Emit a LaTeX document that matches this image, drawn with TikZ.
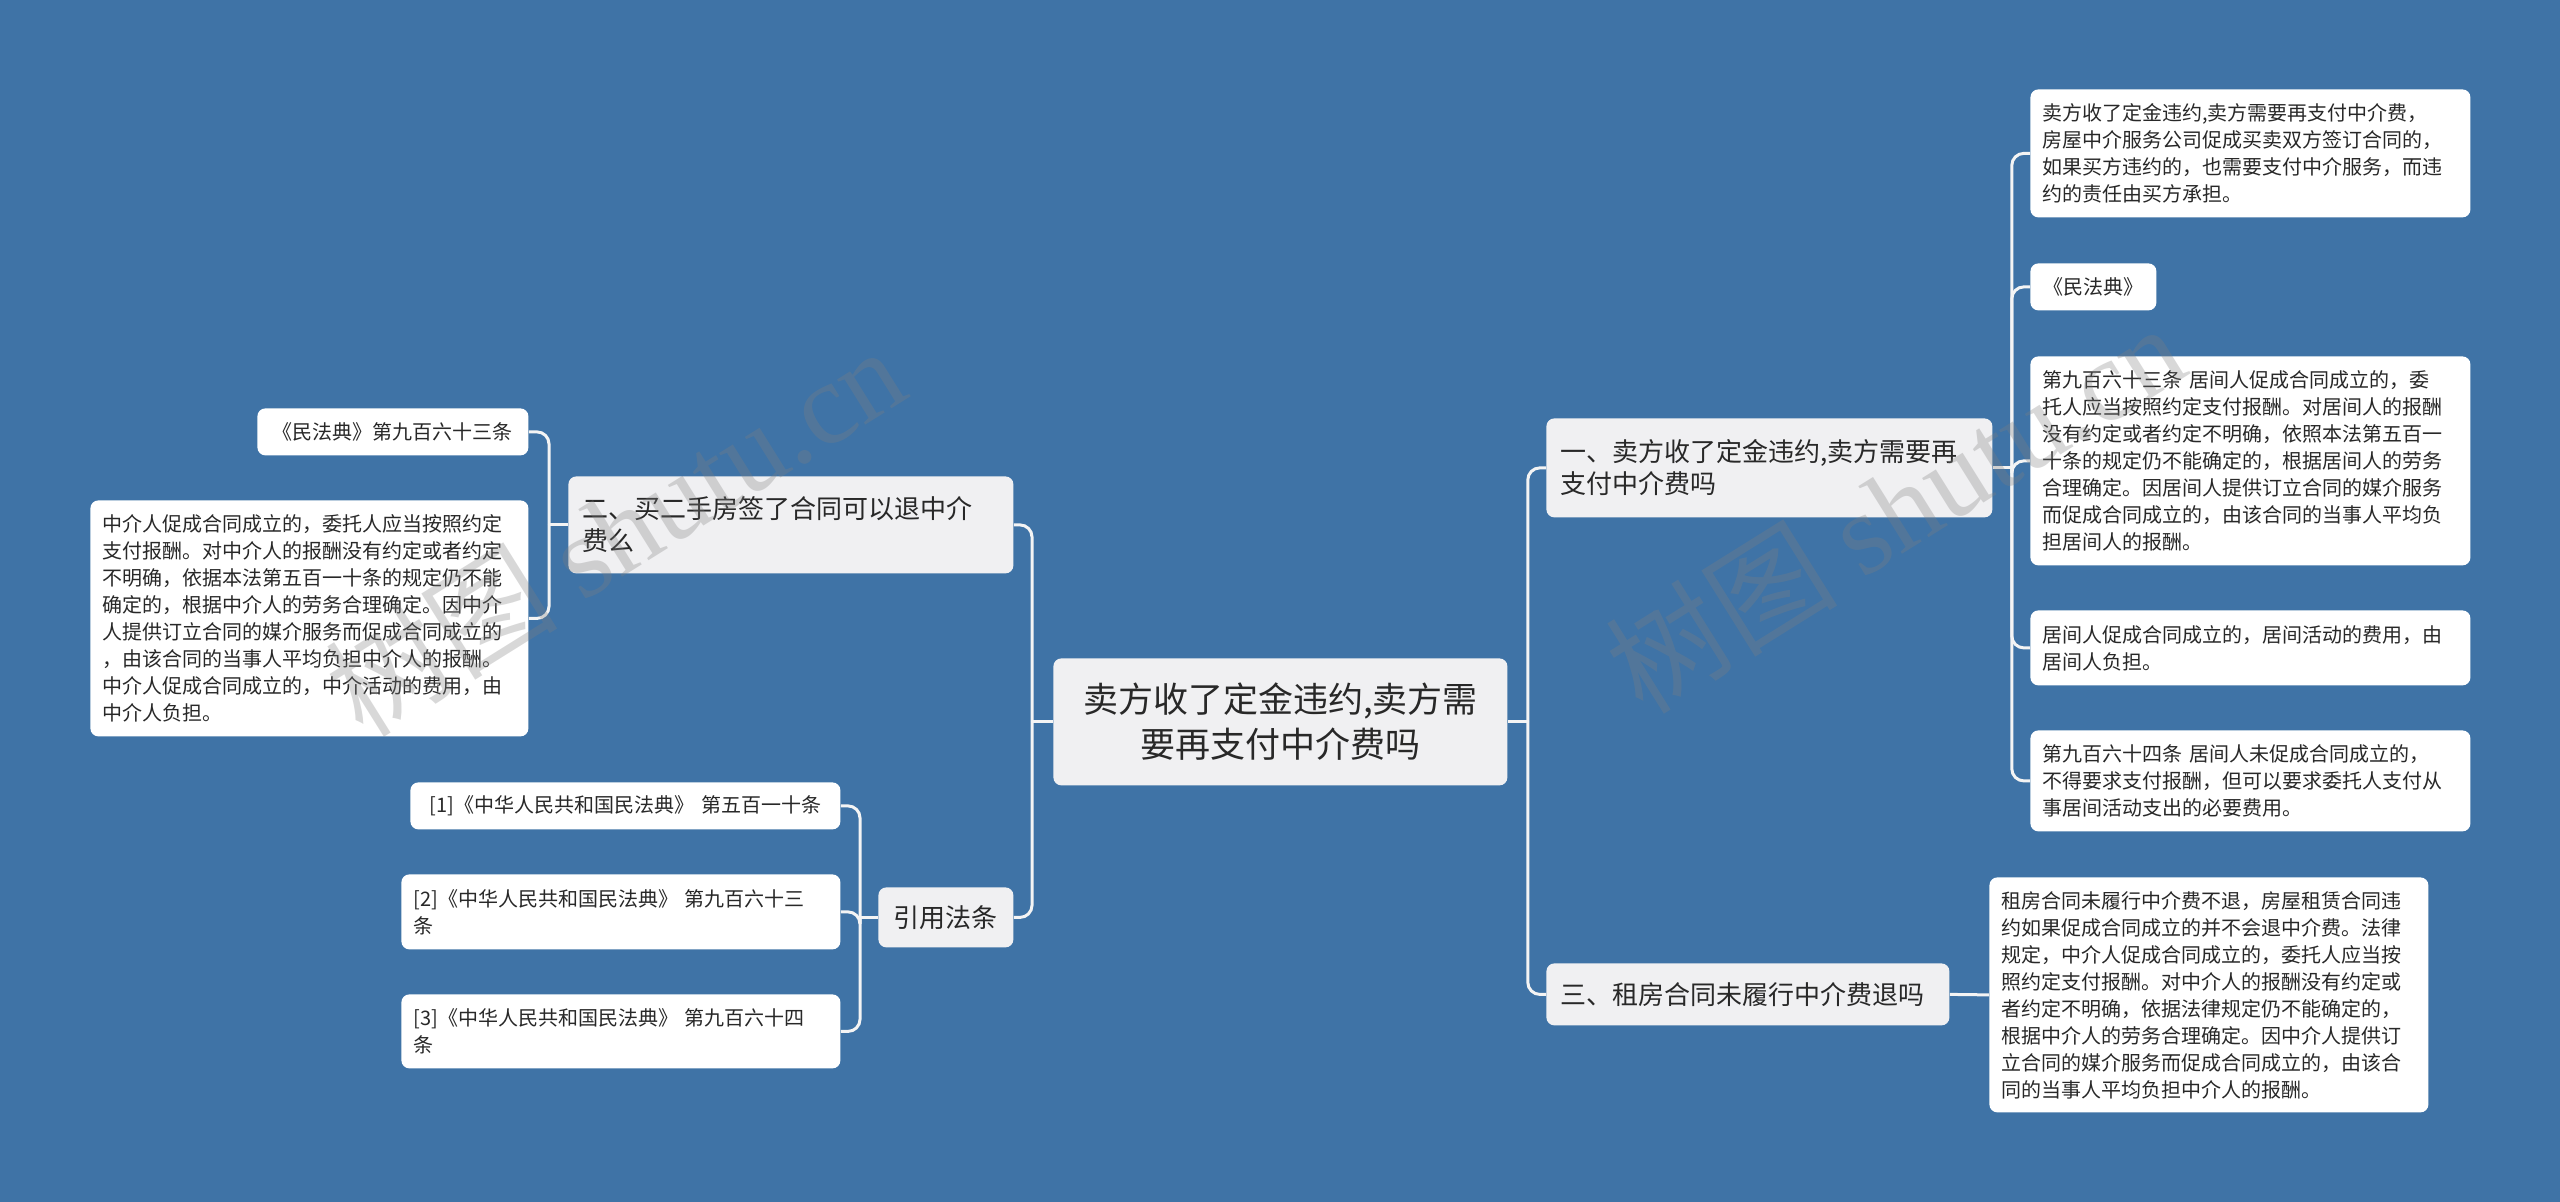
\documentclass[tikz,border=0pt]{standalone}
\usepackage{fontspec}
\setmainfont{Noto Sans CJK SC}
\newfontfamily\wmlatin{Liberation Serif}
\usetikzlibrary{positioning}

\definecolor{bgblue}{RGB}{63,115,166}
\definecolor{topfill}{RGB}{240,240,242}
\definecolor{inkgray}{RGB}{40,40,40}
\definecolor{linkwhite}{RGB}{244,244,244}

\tikzset{
  mapbox/.style={rectangle, rounded corners=4pt, anchor=north west,
    text=inkgray, inner ysep=3pt},
  rootbox/.style={mapbox, fill=topfill, inner xsep=8pt, align=center,
    font=\fontsize{17.5pt}{22.5pt}\selectfont},
  branchbox/.style={mapbox, fill=topfill, inner xsep=7pt, align=left,
    font=\fontsize{13pt}{16pt}\selectfont},
  leafbox/.style={mapbox, fill=white, inner xsep=6pt, align=left,
    font=\fontsize{10pt}{13.5pt}\selectfont},
  link/.style={draw=linkwhite, line width=1.5pt, rounded corners=6pt},
  wmark/.style={text=gray, text opacity=0.3, rotate=32,
    font=\fontsize{58pt}{58pt}\selectfont}
}

\begin{document}
\begin{tikzpicture}[x=0.5pt,y=-0.5pt]
  % background
  \fill[bgblue] (0,0) rectangle (2560,1202);
  \useasboundingbox (0,0) rectangle (2560,1202);

  % centre
  \node[rootbox, text width=211pt, minimum height=63.5pt] (root) at (1053,658)
    {卖方收了定金违约,卖方需\\要再支付中介费吗};

  % main branches
  \node[branchbox, text width=209pt, minimum height=49.5pt] (b1) at (1546,418)
    {一、卖方收了定金违约,卖方需要再\\支付中介费吗};
  \node[branchbox, text width=187.5pt, minimum height=31pt] (b3) at (1546,963)
    {三、租房合同未履行中介费退吗};
  \node[branchbox, text width=208.5pt, minimum height=48.5pt] (b2) at (568,476)
    {二、买二手房签了合同可以退中介\\费么};
  \node[branchbox, align=center, text width=53.5pt, minimum height=30pt] (cite) at (878,887)
    {引用法条};

  % leaves of b1
  \node[leafbox, text width=208pt, minimum height=64pt] (r1) at (2030,89)
    {卖方收了定金违约,卖方需要再支付中介费，\\
     房屋中介服务公司促成买卖双方签订合同的，\\
     如果买方违约的，也需要支付中介服务，而违\\
     约的责任由买方承担。};
  \node[leafbox, align=center, text width=51pt, minimum height=23.5pt] (r2) at (2030,263)
    {《民法典》};
  \node[leafbox, text width=208pt, minimum height=104.5pt] (r3) at (2030,356)
    {第九百六十三条 居间人促成合同成立的，委\\
     托人应当按照约定支付报酬。对居间人的报酬\\
     没有约定或者约定不明确，依照本法第五百一\\
     十条的规定仍不能确定的，根据居间人的劳务\\
     合理确定。因居间人提供订立合同的媒介服务\\
     而促成合同成立的，由该合同的当事人平均负\\
     担居间人的报酬。};
  \node[leafbox, text width=208pt, minimum height=37.5pt] (r4) at (2030,610)
    {居间人促成合同成立的，居间活动的费用，由\\
     居间人负担。};
  \node[leafbox, text width=208pt, minimum height=50.5pt] (r5) at (2030,730)
    {第九百六十四条 居间人未促成合同成立的，\\
     不得要求支付报酬，但可以要求委托人支付从\\
     事居间活动支出的必要费用。};

  % leaf of b3
  \node[leafbox, text width=207.5pt, minimum height=117.5pt] (r6) at (1989,877)
    {租房合同未履行中介费不退，房屋租赁合同违\\
     约如果促成合同成立的并不会退中介费。法律\\
     规定，中介人促成合同成立的，委托人应当按\\
     照约定支付报酬。对中介人的报酬没有约定或\\
     者约定不明确，依据法律规定仍不能确定的，\\
     根据中介人的劳务合理确定。因中介人提供订\\
     立合同的媒介服务而促成合同成立的，由该合\\
     同的当事人平均负担中介人的报酬。};

  % leaves of b2
  \node[leafbox, align=center, text width=123.5pt, minimum height=23.5pt] (l1) at (257,408)
    {《民法典》第九百六十三条};
  \node[leafbox, text width=207pt, minimum height=118pt] (l2) at (90,500)
    {中介人促成合同成立的，委托人应当按照约定\\
     支付报酬。对中介人的报酬没有约定或者约定\\
     不明确，依据本法第五百一十条的规定仍不能\\
     确定的，根据中介人的劳务合理确定。因中介\\
     人提供订立合同的媒介服务而促成合同成立的\\
     ，由该合同的当事人平均负担中介人的报酬。\\
     中介人促成合同成立的，中介活动的费用，由\\
     中介人负担。};

  % cited articles
  \node[leafbox, align=center, text width=203pt, minimum height=23.5pt] (c1) at (410,782)
    {[1]《中华人民共和国民法典》 第五百一十条};
  \node[leafbox, text width=207.5pt, minimum height=37.5pt] (c2) at (401,874)
    {[2]《中华人民共和国民法典》 第九百六十三\\条};
  \node[leafbox, text width=207.5pt, minimum height=37pt] (c3) at (401,994)
    {[3]《中华人民共和国民法典》 第九百六十四\\条};

  % junctions
  \coordinate (rj) at ([xshift=10pt]root.east);
  \coordinate (lj) at ([xshift=-10.5pt]root.west);
  \coordinate (b1j) at ([xshift=9.5pt]b1.east);
  \coordinate (b2j) at ([xshift=-9.5pt]b2.west);
  \coordinate (cj) at ([xshift=-9pt]cite.west);

  % links right
  \draw[link] (root.east) -- (rj);
  \draw[link] (rj) |- (b1.west);
  \draw[link] (rj) |- (b3.west);
  \draw[link] (b1.east) -- (b1j);
  \foreach \leaf in {r1,r2,r3,r4,r5}
    \draw[link] (b1j) |- (\leaf.west);
  \draw[link] (b3.east) -- (r6.west);

  % links left
  \draw[link] (root.west) -- (lj);
  \draw[link] (lj) |- (b2.east);
  \draw[link] (lj) |- (cite.east);
  \draw[link] (b2.west) -- (b2j);
  \foreach \leaf in {l1,l2}
    \draw[link] (b2j) |- (\leaf.east);
  \draw[link] (cite.west) -- (cj);
  \foreach \leaf in {c1,c2,c3}
    \draw[link] (cj) |- (\leaf.east);

  % watermarks
  \node[wmark] (wm1) at (615,530) {树图 {\wmlatin shutu.cn}};
  \node[wmark] (wm2) at (1895,507) {树图 {\wmlatin shutu.cn}};
\end{tikzpicture}
\end{document}
